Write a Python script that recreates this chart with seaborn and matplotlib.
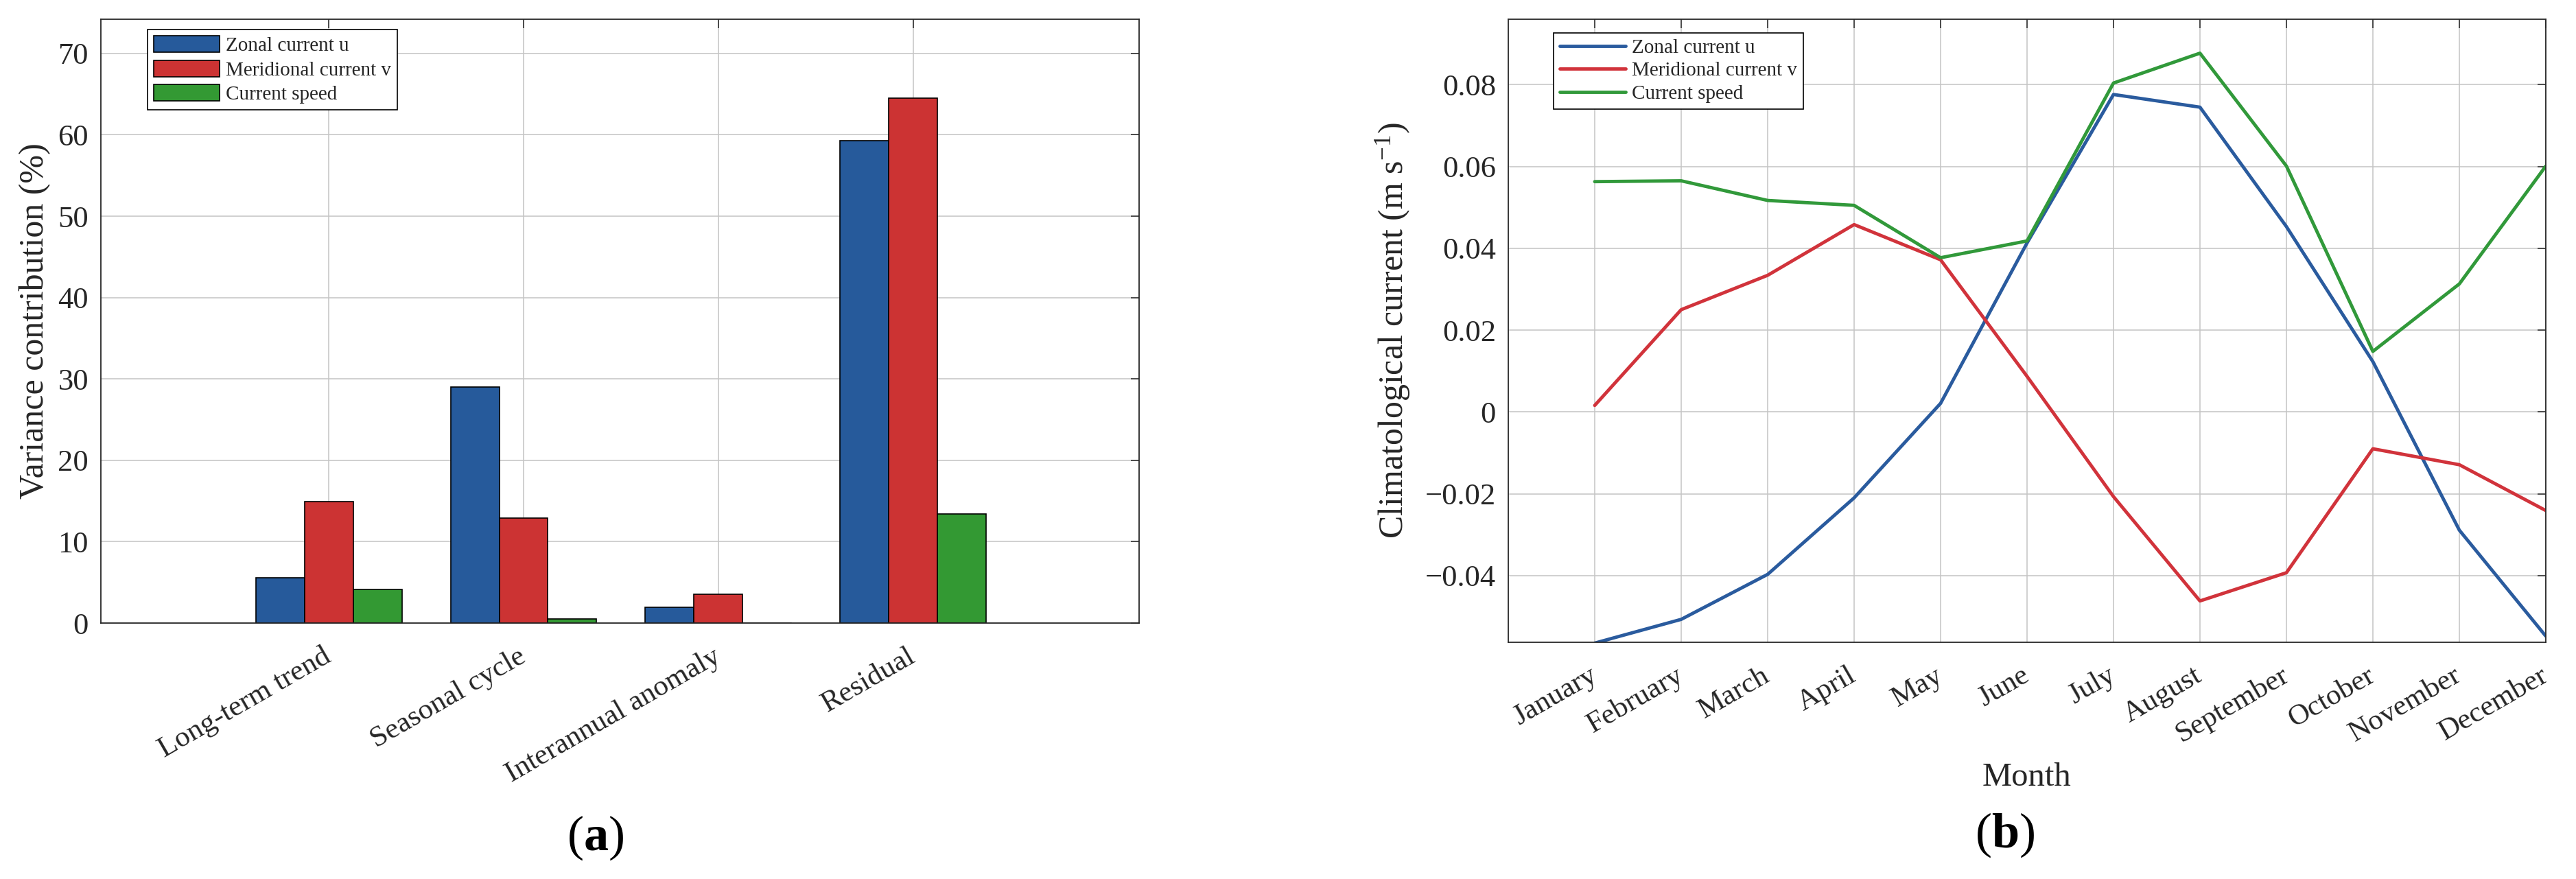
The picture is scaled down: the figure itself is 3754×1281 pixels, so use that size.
import numpy as np
import pandas as pd
import matplotlib
matplotlib.use("Agg")
import matplotlib.pyplot as plt
import seaborn as sns
from matplotlib.patches import Patch
from matplotlib.lines import Line2D

# ---------------- data ----------------
components = ["Long-term trend", "Seasonal cycle", "Interannual anomaly", "Residual"]
series = ["Zonal current u", "Meridional current v", "Current speed"]
var_u = [5.6, 29.0, 1.9, 59.3]
var_v = [14.9, 12.9, 3.5, 64.5]
var_speed = [4.1, 0.5, -0.15, 13.4]

months = ["January", "February", "March", "April", "May", "June", "July",
          "August", "September", "October", "November", "December"]
month_num = [1, 2, 3, 4, 5, 6, 7, 8, 9, 10, 11, 12]
clim_u = [-0.0565, -0.0507, -0.0397, -0.0210, 0.0021, 0.0413, 0.0776,
          0.0745, 0.0453, 0.0123, -0.0289, -0.0548]
clim_v = [0.0016, 0.0250, 0.0334, 0.0458, 0.0372, 0.0087, -0.0207,
          -0.0462, -0.0393, -0.0090, -0.0129, -0.0241]
clim_speed = [0.0563, 0.0565, 0.0517, 0.0505, 0.0377, 0.0418, 0.0804,
              0.0877, 0.0601, 0.0148, 0.0313, 0.0601]

left_yticks = [0, 10, 20, 30, 40, 50, 60, 70]
right_yticks = [-0.04, -0.02, 0, 0.02, 0.04, 0.06, 0.08]
right_yticklabels = ["\u22120.04", "\u22120.02", "0", "0.02", "0.04", "0.06", "0.08"]

bar_colors = ["#265a9b", "#cc3333", "#339933"]
line_colors = ["#2a5b9e", "#d1333b", "#31993a"]

# ---------------- style ----------------
sns.set_style("white")
plt.rcParams["font.family"] = ["Liberation Serif", "DejaVu Serif"]
plt.rcParams["mathtext.fontset"] = "custom"
plt.rcParams["mathtext.rm"] = "Liberation Serif"
plt.rcParams["mathtext.bf"] = "Liberation Serif:bold"
plt.rcParams["mathtext.it"] = "Liberation Serif:italic"
plt.rcParams["mathtext.default"] = "regular"

TXT = "#262626"
W, H = 3754, 1281
fig = plt.figure(figsize=(W / 100, H / 100), dpi=100)

ax1 = fig.add_axes([147 / W, 1 - 908 / H, 1513 / W, 880 / H])
ax2 = fig.add_axes([2198 / W, 1 - 936 / H, 1512 / W, 908 / H])

# ---------------- panel (a) ----------------
df_a = pd.DataFrame({
    "component": components * 3,
    "series": [series[0]] * 4 + [series[1]] * 4 + [series[2]] * 4,
    "value": var_u + var_v + var_speed,
})
sns.barplot(data=df_a, x="component", y="value", hue="series",
            order=components, hue_order=series, palette=bar_colors,
            saturation=1, width=0.75, edgecolor="black", linewidth=1.2,
            errorbar=None, legend=False, ax=ax1)
ax1.set_xlim(-1.17, 4.16)
ax1.set_ylim(0, 74.2)
ax1.set_yticks(left_yticks)
ax1.set_yticklabels([str(v) for v in left_yticks])
ax1.set_xticks(range(len(components)))
ax1.set_xticklabels(components, rotation=30, ha="right", va="center",
                    rotation_mode="anchor")
ax1.set_xlabel("")
ax1.set_ylabel("Variance contribution (%)", fontsize=36, color=TXT)
ax1.yaxis.label.set_va("center")
ax1.yaxis.set_label_coords(-0.0634, 0.5)

leg_a = [Patch(facecolor=c, edgecolor="black", linewidth=1.2, label=s)
         for c, s in zip(bar_colors, series)]
l1 = ax1.legend(handles=leg_a, loc="upper left",
                bbox_to_anchor=(68 / 1513, 1 - 15.5 / 880), borderaxespad=0,
                fontsize=21, frameon=True, fancybox=False, framealpha=1,
                edgecolor="black", handlelength=3.3, handleheight=0.9,
                handletextpad=0.3, labelspacing=0.25, borderpad=0.3)
l1.get_frame().set_linewidth(1.2)

# ---------------- panel (b) ----------------
df_b = pd.DataFrame({
    "month": month_num * 3,
    "series": [series[0]] * 12 + [series[1]] * 12 + [series[2]] * 12,
    "value": clim_u + clim_v + clim_speed,
})
sns.lineplot(data=df_b, x="month", y="value", hue="series",
             hue_order=series, palette=line_colors, linewidth=3.5,
             legend=False, ax=ax2)
ax2.set_xlim(0, 12)
ax2.set_ylim(-0.0563, 0.0960)
ax2.set_yticks(right_yticks)
ax2.set_yticklabels(right_yticklabels)
ax2.set_xticks(month_num)
ax2.set_xticklabels(months, rotation=30, ha="right", va="center",
                    rotation_mode="anchor")
ax2.set_xlabel("Month", fontsize=35, color=TXT)
ax2.xaxis.label.set_va("top")
ax2.xaxis.set_label_coords(0.5, -0.193)
ax2.set_ylabel("Climatological current (m s$^{-1}$)", fontsize=36, color=TXT)
ax2.yaxis.label.set_va("center")
ax2.yaxis.set_label_coords(-0.111, 0.5)

leg_b = [Line2D([0], [0], color=c, lw=3.5, label=s)
         for c, s in zip(line_colors, series)]
l2 = ax2.legend(handles=leg_b, loc="upper left",
                bbox_to_anchor=(66 / 1512, 1 - 19.6 / 908), borderaxespad=0,
                fontsize=21, frameon=True, fancybox=False, framealpha=1,
                edgecolor="black", handlelength=3.3, handletextpad=0.3,
                labelspacing=0.25, borderpad=0.3)
l2.get_frame().set_linewidth(1.2)

# ---------------- common axes styling ----------------
for ax in (ax1, ax2):
    ax.grid(True, color="#c4c4c4", linewidth=1.1)
    ax.set_axisbelow(True)
    for sp in ax.spines.values():
        sp.set_visible(True)
        sp.set_color(TXT)
        sp.set_linewidth(1.3)
    ax.tick_params(direction="in", length=9, width=1.1, top=True, right=True,
                   colors=TXT, labelcolor=TXT)
    ax.tick_params(axis="y", labelsize=32, pad=13)
    ax.tick_params(axis="x", labelsize=31, pad=33)

# panel labels
fig.text(868 / W, 1 - 1221 / H, r"($\mathbf{a}$)", fontsize=52,
         ha="center", va="center", color="black")
fig.text(2922 / W, 1 - 1217 / H, r"($\mathbf{b}$)", fontsize=52,
         ha="center", va="center", color="black")

fig.savefig("out.png", dpi=100, facecolor="white")
